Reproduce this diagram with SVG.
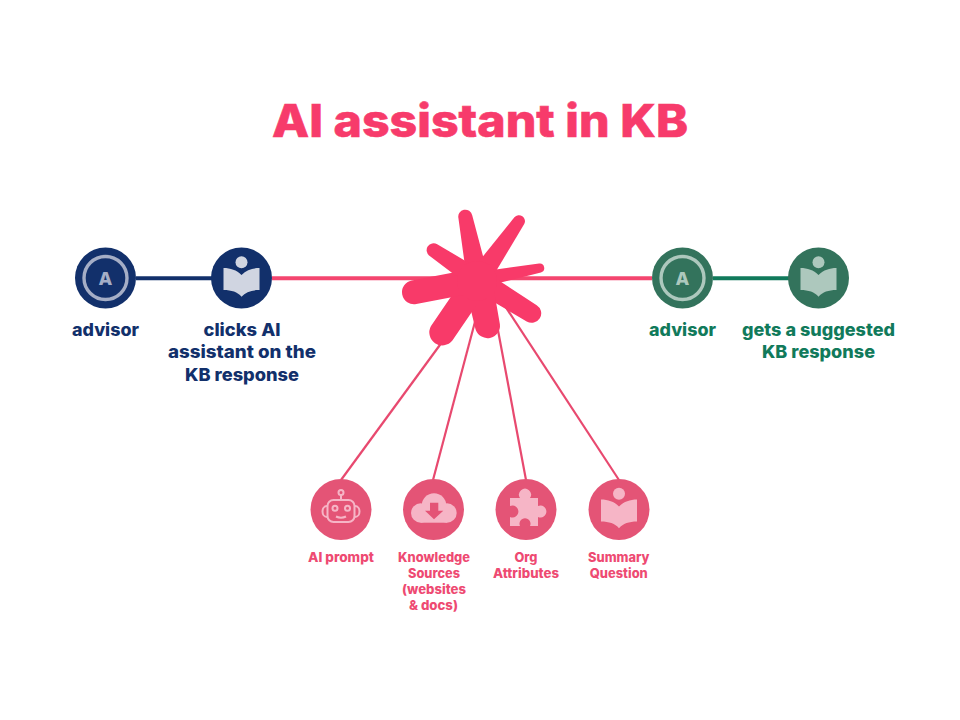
<svg xmlns="http://www.w3.org/2000/svg" width="960" height="720" viewBox="0 0 960 720">
<style>
text{font-family:"Inter","Liberation Sans",sans-serif;font-weight:800;text-anchor:middle}
.t{font-size:45px;fill:#f73b6b;font-weight:800;stroke:#f73b6b;stroke-width:.6}
.n{font-size:17.5px;fill:#12306b}
.g{font-size:17.5px;fill:#117a5b}
.p{font-size:13px;fill:#ee4a72}
.arm{fill:#f83a69}
.thin{stroke:#e8496f;stroke-width:2.2;fill:none}
</style>
<defs>
<g id="book">
<circle cx="0" cy="-15.700" r="6"/>
<path d="M-18-10C-11-10-5-8 0-3C5-8 11-10 18-10V12C10 12 4 14 0 18.700C-4 14-10 12-18 12Z"/>
</g>
<g id="a">
<circle r="21.500" fill="none" stroke-width="3.400"/>
<text y="7" style="font-size:18px" stroke="none">A</text>
</g>
</defs>
<rect width="960" height="720" fill="#fff"/>
<text class="t" x="480" y="137" textLength="416" lengthAdjust="spacingAndGlyphs">AI assistant in KB</text>
<g id="connectors">
<line x1="136" y1="278.300" x2="212" y2="278.300" stroke="#12306b" stroke-width="4"/>
<line x1="272" y1="278.300" x2="652" y2="278.300" stroke="#f4466f" stroke-width="4"/>
<line x1="713" y1="278.300" x2="789" y2="278.300" stroke="#117a5b" stroke-width="4"/>
<line class="thin" x1="445" y1="338" x2="341" y2="480"/>
<line class="thin" x1="476" y1="318" x2="433" y2="480"/>
<line class="thin" x1="497" y1="325" x2="526" y2="480"/>
<line class="thin" x1="505" y1="306" x2="619" y2="480"/>
</g>
<g id="star">
<path class="arm" d="M472.200 215.300A7 7 0 0 0 458.400 218.100L467.200 282.200L488.800 277.800Z"/>
<path class="arm" d="M524.200 224.100A6 6 0 0 0 514.400 217.300L469 273.700L487 286.300Z"/>
<path class="arm" d="M540.900 272.400A4.500 4.500 0 0 0 539.100 263.600L476.500 272.200L479.500 287.800Z"/>
<path class="arm" d="M526.700 321.400A9.500 9.500 0 0 0 536.700 305.200L483.800 270.700L472.200 289.300Z"/>
<path class="arm" d="M475.500 329.200A12.500 12.500 0 0 0 499.900 324.200L491.700 277.200L464.300 282.800Z"/>
<path class="arm" d="M431 326A13 13 0 0 0 452.400 340.600L488.700 287.300L467.300 272.700Z"/>
<path class="arm" d="M411.700 280.500A12 12 0 0 0 416.300 304.100L480.300 291.800L475.700 268.200Z"/>
<path class="arm" d="M437.200 244.200A7 7 0 0 0 429.400 255.800L472.400 288.300L483.600 271.700Z"/>
<circle cx="477" cy="281" r="20" fill="#f83a69"/>
</g>
<g id="n1"><circle cx="105.500" cy="278" r="30.500" fill="#12306b"/><use href="#a" x="105.500" y="278" stroke="#a5aec6" fill="#a5aec6"/><text class="n" x="105.500" y="335.700" textLength="67" lengthAdjust="spacingAndGlyphs">advisor</text></g>
<g id="n2"><circle cx="241.500" cy="278" r="30.500" fill="#12306b"/><use href="#book" x="241.500" y="278" fill="#d0d5e1"/><text class="n" x="242" y="335.700" textLength="77" lengthAdjust="spacingAndGlyphs">clicks AI</text><text class="n" x="242" y="358" textLength="148" lengthAdjust="spacingAndGlyphs">assistant on the</text><text class="n" x="242" y="380.500" textLength="114" lengthAdjust="spacingAndGlyphs">KB response</text></g>
<g id="n3"><circle cx="682.500" cy="278" r="30.500" fill="#33735c"/><use href="#a" x="682.500" y="278" stroke="#adc8bd" fill="#adc8bd"/><text class="g" x="682.500" y="335.700" textLength="67" lengthAdjust="spacingAndGlyphs">advisor</text></g>
<g id="n4"><circle cx="818.500" cy="278" r="30.500" fill="#33735c"/><use href="#book" x="818.500" y="278" fill="#adc8bd"/><text class="g" x="818.500" y="335.700" textLength="153" lengthAdjust="spacingAndGlyphs">gets a suggested</text><text class="g" x="818.500" y="358" textLength="113" lengthAdjust="spacingAndGlyphs">KB response</text></g>
<g id="p1"><circle cx="341" cy="509.500" r="30.500" fill="#e45476"/>
<g fill="none" stroke="#f6b5c6" stroke-width="2"><rect x="327.500" y="500" width="27" height="22" rx="6"/><circle cx="341" cy="492.500" r="2.500"/><path d="M341 495V500M327 506C321 506 321 517 327 517M355 506C361 506 361 517 355 517M336 516.500Q341 519 346 516.500"/><circle cx="335" cy="508.300" r="2.500"/><circle cx="347.500" cy="508.300" r="2.500"/></g>
<text class="p" x="341" y="562.300" textLength="66" lengthAdjust="spacingAndGlyphs">AI prompt</text></g>
<g id="p2"><circle cx="433.500" cy="509.500" r="30.500" fill="#e45476"/>
<g fill="#f6b5c6"><circle cx="420.700" cy="513" r="9.700"/><circle cx="434" cy="505.500" r="12.200"/><circle cx="447" cy="513" r="9.700"/><rect x="420.700" y="510" width="26.300" height="12.700"/></g>
<path d="M430 502.700H438.300V510.700H443.300L434 519.300L425 510.700H430Z" fill="#e45476"/>
<text class="p" x="434" y="562.300" textLength="72" lengthAdjust="spacingAndGlyphs">Knowledge</text><text class="p" x="434" y="578.300" textLength="52" lengthAdjust="spacingAndGlyphs">Sources</text><text class="p" x="434" y="594.300" textLength="64" lengthAdjust="spacingAndGlyphs">(websites</text><text class="p" x="433.500" y="610.300" textLength="49" lengthAdjust="spacingAndGlyphs">&amp; docs)</text></g>
<g id="p3"><circle cx="526" cy="509.500" r="30.500" fill="#e45476"/>
<path d="M510 498H520A6 6 0 1 1 530 498H538V506A6 6 0 1 1 538 517V526H530A5.500 5.500 0 1 0 520 526H510V517A6 6 0 1 0 510 506Z" fill="#f6b5c6"/>
<text class="p" x="526" y="562.300" textLength="23" lengthAdjust="spacingAndGlyphs">Org</text><text class="p" x="526" y="578.300" textLength="66" lengthAdjust="spacingAndGlyphs">Attributes</text></g>
<g id="p4"><circle cx="619" cy="509.500" r="30.500" fill="#e45476"/><use href="#book" x="619" y="509.500" fill="#f6b5c6"/>
<text class="p" x="618.800" y="562.300" textLength="61.500" lengthAdjust="spacingAndGlyphs">Summary</text><text class="p" x="618.800" y="578.300" textLength="58" lengthAdjust="spacingAndGlyphs">Question</text></g>
</svg>
